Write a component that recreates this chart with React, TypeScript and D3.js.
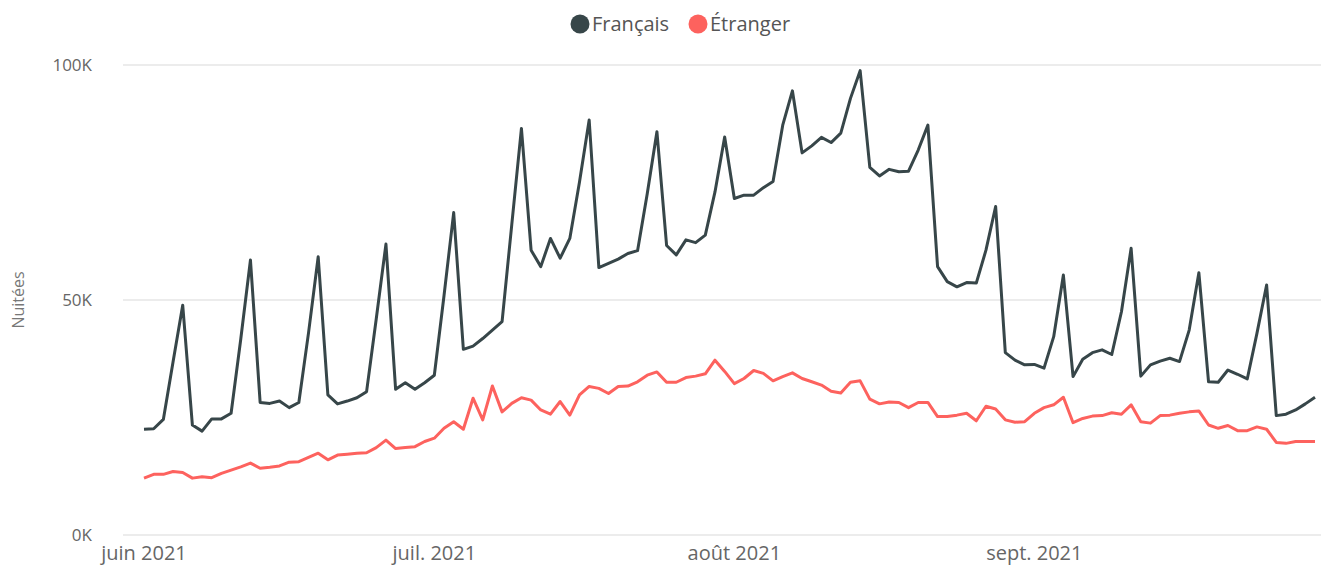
import React, { useRef, useEffect } from 'react';
import * as d3 from 'd3';

// nuitées par jour, du 1er juin au 30 sept. 2021 (en milliers)
const startDay = new Date(2021, 5, 1);
const endDay = new Date(2021, 8, 30);

const francais = [
    22.5, 22.6, 24.6, 36.8, 48.9, 23.4, 22.1, 24.7, 24.7, 25.9,
    41.7, 58.5, 28.2, 28.0, 28.5, 27.1, 28.2, 43.0, 59.2, 29.8,
    27.9, 28.5, 29.2, 30.5, 46.0, 61.9, 31.0, 32.4, 31.0, 32.4,
    34.0, 50.9, 68.6, 39.5, 40.2, 41.8, 43.6, 45.4, 66.0, 86.5,
    60.6, 57.1, 63.1, 58.9, 63.1, 75.1, 88.3, 56.9, 57.8, 58.7,
    59.9, 60.5, 72.6, 85.8, 61.6, 59.6, 62.8, 62.2, 63.8, 73.0,
    84.7, 71.6, 72.3, 72.3, 73.9, 75.2, 87.2, 94.5, 81.3, 82.8,
    84.6, 83.5, 85.5, 92.9, 98.8, 78.2, 76.4, 77.8, 77.3, 77.4,
    81.9, 87.2, 57.1, 53.9, 52.8, 53.7, 53.6, 60.6, 69.9, 38.8,
    37.2, 36.2, 36.3, 35.5, 42.2, 55.3, 33.7, 37.4, 38.8, 39.4,
    38.4, 47.5, 61.0, 33.8, 36.2, 37.0, 37.6, 36.9, 43.6, 55.8,
    32.6, 32.5, 35.1, 34.2, 33.2, 42.9, 53.2, 25.4, 25.7, 26.6,
    27.9, 29.3
];

const etranger = [
    12.1, 12.9, 12.9, 13.5, 13.3, 12.1, 12.4, 12.2, 13.1, 13.8,
    14.5, 15.3, 14.2, 14.4, 14.7, 15.5, 15.6, 16.5, 17.4, 16.0,
    17.0, 17.2, 17.4, 17.5, 18.6, 20.2, 18.4, 18.6, 18.8, 19.9,
    20.6, 22.7, 24.1, 22.5, 29.1, 24.5, 31.7, 26.2, 28.0, 29.2,
    28.7, 26.6, 25.7, 28.4, 25.5, 29.8, 31.6, 31.2, 30.1, 31.6,
    31.7, 32.6, 34.0, 34.7, 32.5, 32.5, 33.5, 33.8, 34.3, 37.2,
    34.8, 32.2, 33.3, 35.0, 34.4, 32.8, 33.7, 34.5, 33.3, 32.6,
    31.9, 30.6, 30.2, 32.5, 32.8, 28.9, 27.9, 28.3, 28.2, 27.1,
    28.2, 28.2, 25.2, 25.2, 25.5, 25.9, 24.3, 27.4, 26.8, 24.5,
    24.0, 24.1, 25.9, 27.1, 27.7, 29.3, 23.9, 24.8, 25.3, 25.4,
    26.0, 25.7, 27.7, 24.1, 23.8, 25.4, 25.5, 25.9, 26.2, 26.4,
    23.4, 22.7, 23.3, 22.2, 22.2, 23.0, 22.5, 19.7, 19.5, 19.9,
    19.9, 19.9
];

const seriesNames = ['Français', 'Étranger'];
const seriesColors = ['#374649', '#FD625E'];
const yTicks = [0, 50, 100];
const xTickLabels = ['juin 2021', 'juil. 2021', 'août 2021', 'sept. 2021'];

const font = "'Open Sans', 'Noto Sans', sans-serif";

function drawChart(svgEl) {
    const svg = d3.select(svgEl);
    svg.selectAll('*').remove();

    const days = d3.timeDay.range(startDay, d3.timeDay.offset(endDay, 1));

    const x = d3.scaleTime()
        .domain([startDay, endDay])
        .range([144, 1315]);

    const y = d3.scaleLinear()
        .domain([0, 100])
        .range([535, 65]);

    // grille horizontale
    svg.append('g')
        .selectAll('line')
        .data(yTicks)
        .enter().append('line')
        .attr('x1', 123)
        .attr('x2', 1321)
        .attr('y1', d => y(d))
        .attr('y2', d => y(d))
        .attr('stroke', '#E6E6E6')
        .attr('stroke-width', 1.5);

    svg.append('g')
        .selectAll('text')
        .data(yTicks)
        .enter().append('text')
        .attr('x', 92)
        .attr('y', d => y(d))
        .attr('dy', '0.35em')
        .attr('text-anchor', 'end')
        .style('font-family', font)
        .style('font-size', '17px')
        .style('fill', '#666666')
        .text(d => d + 'K');

    const months = d3.timeMonth.range(startDay, endDay);
    svg.append('g')
        .selectAll('text')
        .data(months)
        .enter().append('text')
        .attr('x', d => x(d))
        .attr('y', 553)
        .attr('dy', '0.35em')
        .attr('text-anchor', 'middle')
        .style('font-family', font)
        .style('font-size', '20px')
        .style('fill', '#666666')
        .text((d, i) => xTickLabels[i]);

    svg.append('text')
        .attr('transform', 'translate(18,300) rotate(-90)')
        .attr('text-anchor', 'middle')
        .attr('dy', '0.35em')
        .style('font-family', font)
        .style('font-size', '16px')
        .style('fill', '#777777')
        .text('Nuitées');

    const line = d3.line()
        .x((d, i) => x(days[i]))
        .y(d => y(d))
        .curve(d3.curveLinear);

    [etranger, francais].forEach((values, k) => {
        const idx = k === 0 ? 1 : 0;
        svg.append('path')
            .datum(values)
            .attr('fill', 'none')
            .attr('stroke', seriesColors[idx])
            .attr('stroke-width', 3)
            .attr('stroke-linejoin', 'round')
            .attr('d', line);
    });

    // légende
    const legendX = [580, 698];
    const legend = svg.append('g')
        .selectAll('g')
        .data(seriesNames)
        .enter().append('g')
        .attr('transform', (d, i) => `translate(${legendX[i]},24)`);

    legend.append('circle')
        .attr('r', 9.5)
        .style('fill', (d, i) => seriesColors[i]);

    legend.append('text')
        .attr('x', 12)
        .attr('dy', '0.35em')
        .style('font-family', font)
        .style('font-size', '20px')
        .style('fill', '#555555')
        .text(d => d);
}

const App = () => {
    const svgRef = useRef(null);

    useEffect(() => {
        if (svgRef.current) {
            drawChart(svgRef.current);
        }
    }, []);

    return (
        <svg
            ref={svgRef}
            width={1327}
            height={567}
            style={{ position: 'absolute', left: 0, top: 0, background: '#ffffff' }}
        />
    );
};

export default App;
